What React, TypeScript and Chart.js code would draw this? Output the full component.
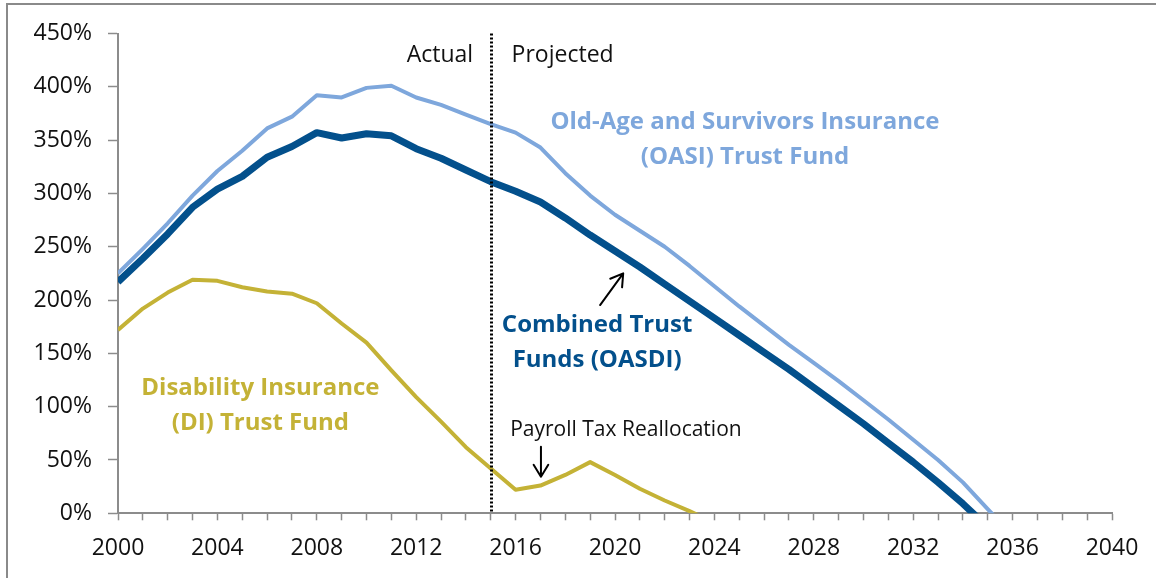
import React, { useEffect, useRef } from "react";
import { Chart, registerables } from "chart.js";

Chart.register(...registerables);

// ---------- data ----------
const YEARS = [
  2000, 2001, 2002, 2003, 2004, 2005, 2006, 2007, 2008, 2009,
  2010, 2011, 2012, 2013, 2014, 2015, 2016, 2017, 2018, 2019,
  2020, 2021, 2022, 2023, 2024, 2025, 2026, 2027, 2028, 2029,
  2030, 2031, 2032, 2033, 2034, 2035, 2036,
];

// Combined Trust Funds (OASDI), trust fund ratio in %
const OASDI = [
  217, 239, 262, 287, 304, 316, 334, 344, 357, 352,
  356, 354, 342, 333, 322, 311, 302, 292, 277, 261,
  246, 231, 215, 199, 183, 167, 151, 135, 118, 101,
  84, 66, 48, 29, 9, -13,
];

// Old-Age and Survivors Insurance (OASI)
const OASI = [
  225, 248, 272, 298, 321, 340, 361, 372, 392, 390,
  399, 401, 390, 383, 374, 365, 357, 343, 319, 298,
  280, 265, 250, 232, 213, 194, 176, 158, 141, 124,
  106, 88, 69, 50, 29, 4, -21,
];

// Disability Insurance (DI)
const DI = [
  172, 192, 207, 219, 218, 212, 208, 206, 197, 178,
  160, 134, 109, 86, 62, 42, 22, 26, 36, 48,
  36, 23, 12, 2, -9,
];

const AXIS_YEARS = Array.from({ length: 41 }, (_, i) => 2000 + i);
const X_LABEL_STEP = 4;
const Y_MIN = 0;
const Y_MAX = 450;
const Y_STEP = 50;
const DIVIDER_YEAR = 2015;

// ---------- styles ----------
const C_OASDI = "#03508c";
const C_OASI = "#7ea7dc";
const C_DI = "#c4b236";
const C_AXIS = "#8c8c8c";
const FONT = '"Open Sans", "DejaVu Sans", sans-serif';

type Note = {
  lines: string[];
  x: number; // in years
  y: number; // in %
  color: string;
  bold: boolean;
  size: number;
  align: CanvasTextAlign;
};

const NOTES: Note[] = [
  { lines: ["Actual"], x: 2014.29, y: 429.7, color: "#111", bold: false, size: 23, align: "right" },
  { lines: ["Projected"], x: 2015.84, y: 429.7, color: "#111", bold: false, size: 23, align: "left" },
  {
    lines: ["Old-Age and Survivors Insurance", "(OASI) Trust Fund"],
    x: 2025.23, y: 367, color: C_OASI, bold: true, size: 24, align: "center",
  },
  {
    lines: ["Combined Trust", "Funds (OASDI)"],
    x: 2019.28, y: 176.5, color: C_OASDI, bold: true, size: 24, align: "center",
  },
  {
    lines: ["Disability Insurance", "(DI) Trust Fund"],
    x: 2005.73, y: 117.2, color: C_DI, bold: true, size: 24, align: "center",
  },
  { lines: ["Payroll Tax Reallocation"], x: 2020.44, y: 78, color: "#111", bold: false, size: 21, align: "center" },
];

const ARROWS = [
  { from: [2017.02, 62.4], to: [2017.02, 34.3] },
  { from: [2019.4, 195.3], to: [2020.33, 225] },
];

const LINE_GAP = 35;

function toPoints(values: number[]) {
  return values.map((v, i) => ({ x: YEARS[i], y: v }));
}

const overlayPlugin = {
  id: "overlay",
  beforeDraw(chart: any) {
    const ctx = chart.ctx as CanvasRenderingContext2D;
    ctx.save();
    ctx.strokeStyle = "#8a8a8a";
    ctx.lineWidth = 2;
    ctx.beginPath();
    ctx.moveTo(7, chart.height);
    ctx.lineTo(7, 4);
    ctx.lineTo(chart.width, 4);
    ctx.stroke();
    ctx.restore();
  },
  afterDatasetsDraw(chart: any) {
    const ctx = chart.ctx as CanvasRenderingContext2D;
    const area = chart.chartArea;
    const xs = chart.scales.x;
    const ys = chart.scales.y;
    ctx.save();
    // divider
    const px = Math.round(xs.getPixelForValue(DIVIDER_YEAR)) + 0.5;
    ctx.strokeStyle = "#000";
    ctx.lineWidth = 3;
    ctx.setLineDash([2, 2]);
    ctx.beginPath();
    ctx.moveTo(px, area.top);
    ctx.lineTo(px, area.bottom);
    ctx.stroke();
    ctx.setLineDash([]);

    // notes
    ctx.textBaseline = "middle";
    for (const n of NOTES) {
      ctx.font = `${n.bold ? "bold " : ""}${n.size}px ${FONT}`;
      ctx.fillStyle = n.color;
      ctx.textAlign = n.align;
      const bx = xs.getPixelForValue(n.x);
      const by = ys.getPixelForValue(n.y);
      n.lines.forEach((line, i) => ctx.fillText(line, bx, by + i * LINE_GAP));
    }

    // arrows
    ctx.strokeStyle = "#000";
    ctx.lineWidth = 2;
    ctx.lineCap = "round";
    ctx.lineJoin = "round";
    for (const a of ARROWS) {
      const x1 = xs.getPixelForValue(a.from[0]);
      const y1 = ys.getPixelForValue(a.from[1]);
      const x2 = xs.getPixelForValue(a.to[0]);
      const y2 = ys.getPixelForValue(a.to[1]);
      const ang = Math.atan2(y2 - y1, x2 - x1);
      const hl = 14;
      const ha = 0.55;
      ctx.beginPath();
      ctx.moveTo(x1, y1);
      ctx.lineTo(x2, y2);
      ctx.moveTo(x2 - hl * Math.cos(ang - ha), y2 - hl * Math.sin(ang - ha));
      ctx.lineTo(x2, y2);
      ctx.lineTo(x2 - hl * Math.cos(ang + ha), y2 - hl * Math.sin(ang + ha));
      ctx.stroke();
    }
    ctx.restore();
  },
};

export default function App() {
  const ref = useRef<HTMLCanvasElement | null>(null);

  useEffect(() => {
    if (!ref.current) return;
    const chart = new Chart(ref.current, {
      type: "line",
      data: {
        datasets: [
          {
            label: "OASDI",
            data: toPoints(OASDI),
            borderColor: C_OASDI,
            borderWidth: 7,
            pointRadius: 0,
            tension: 0,
            borderJoinStyle: "round",
            clip: 0,
          },
          {
            label: "OASI",
            data: toPoints(OASI),
            borderColor: C_OASI,
            borderWidth: 4,
            pointRadius: 0,
            tension: 0,
            borderJoinStyle: "round",
            clip: 0,
          },
          {
            label: "DI",
            data: toPoints(DI),
            borderColor: C_DI,
            borderWidth: 4,
            pointRadius: 0,
            tension: 0,
            borderJoinStyle: "round",
            clip: 0,
          },
        ] as any,
      },
      options: {
        animation: false,
        responsive: false,
        maintainAspectRatio: false,
        events: [],
        layout: { padding: { left: 0, right: 44, top: 33.5, bottom: 0 } },
        plugins: {
          legend: { display: false },
          tooltip: { enabled: false },
          title: { display: false },
        },
        scales: {
          x: {
            type: "linear",
            min: AXIS_YEARS[0],
            max: AXIS_YEARS[AXIS_YEARS.length - 1],
            afterBuildTicks: (s: any) => {
              s.ticks = AXIS_YEARS.map((v) => ({ value: v }));
            },
            afterFit: (s: any) => {
              s.height = 64.7;
            },
            ticks: {
              autoSkip: false,
              maxRotation: 0,
              padding: 14,
              color: "#111",
              font: { family: FONT, size: 23 },
              callback: (v: any) => ((Number(v) - AXIS_YEARS[0]) % X_LABEL_STEP === 0 ? String(v) : ""),
            },
            grid: {
              drawOnChartArea: false,
              drawTicks: true,
              tickLength: 7,
              tickWidth: 1.5,
              tickColor: C_AXIS,
              color: C_AXIS,
            },
            border: { display: true, color: C_AXIS, width: 2 },
          },
          y: {
            type: "linear",
            min: Y_MIN,
            max: Y_MAX,
            afterFit: (s: any) => {
              s.width = 118;
            },
            ticks: {
              stepSize: Y_STEP,
              padding: 16,
              color: "#111",
              font: { family: FONT, size: 23 },
              callback: (v: any) => `${v}%`,
            },
            grid: {
              drawOnChartArea: false,
              drawTicks: true,
              tickLength: 10,
              tickWidth: 1.5,
              tickColor: C_AXIS,
              color: C_AXIS,
            },
            border: { display: true, color: C_AXIS, width: 2 },
          },
        },
      } as any,
      plugins: [overlayPlugin],
    });
    return () => chart.destroy();
  }, []);

  return (
    <div style={{ position: "fixed", left: 0, top: 0, width: 1156, height: 578, background: "#fff" }}>
      <canvas ref={ref} width={1156} height={578} style={{ width: 1156, height: 578, display: "block" }} />
    </div>
  );
}
